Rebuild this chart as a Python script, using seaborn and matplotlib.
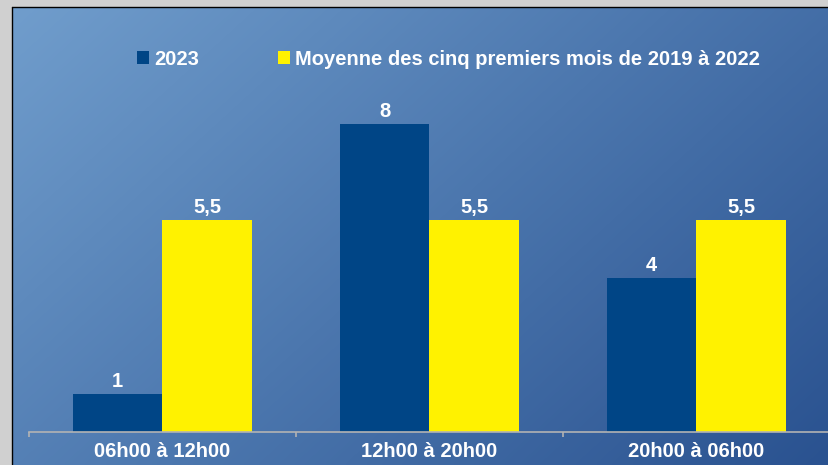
import numpy as np
import pandas as pd
import matplotlib
matplotlib.use("Agg")
import matplotlib.pyplot as plt
from matplotlib.patches import Patch
from matplotlib.lines import Line2D
from matplotlib.colors import LinearSegmentedColormap
import seaborn as sns

# ---- data ----
categories = ["06h00 à 12h00", "12h00 à 20h00", "20h00 à 06h00"]
series_names = ["2023", "Moyenne des cinq premiers mois de 2019 à 2022"]
values_2023 = [1, 8, 4]
values_avg = [5.5, 5.5, 5.5]
colors = ["#004586", "#FFF200"]

df = pd.DataFrame({
    "cat": categories * 2,
    "serie": [series_names[0]] * 3 + [series_names[1]] * 3,
    "val": values_2023 + values_avg,
})

sns.set_theme(style="white")
plt.rcParams["font.family"] = ["Liberation Sans", "DejaVu Sans"]
plt.rcParams["font.weight"] = "bold"

FS = 14.5
W, H = 829, 465
fig = plt.figure(figsize=(W / 100, H / 100), dpi=100)
fig.patch.set_facecolor("#D0D0D0")

# gradient background
bg = fig.add_axes([13 / W, 0, (W - 13) / W, (H - 8) / H])
bg.set_axis_off()
nx, ny = 200, 120
xx, yy = np.meshgrid(np.linspace(0, 1, nx), np.linspace(0, 1, ny))
t = (xx * 0.62 + yy * 0.38)
cmap = LinearSegmentedColormap.from_list("g", ["#709DCC", "#4C77AE", "#2A5290"])
bg.imshow(t, cmap=cmap, aspect="auto", extent=[0, 1, 0, 1], origin="upper",
          interpolation="bilinear")
bg.set_xlim(0, 1)
bg.set_ylim(0, 1)

# black frame lines
fig.add_artist(Line2D([12.5 / W, 12.5 / W], [0, 1 - 7.5 / H], color="black", lw=1,
                      transform=fig.transFigure))
fig.add_artist(Line2D([12.5 / W, 1], [1 - 7.5 / H, 1 - 7.5 / H], color="black", lw=1,
                      transform=fig.transFigure))

# main axes
ax = fig.add_axes([29 / W, 33 / H, 801 / W, 385 / H])
ax.set_facecolor("none")
sns.barplot(data=df, x="cat", y="val", hue="serie", palette=colors,
            width=0.67, gap=0, ax=ax, legend=False, saturation=1, linewidth=0)
ax.set_xlim(-0.5, 2.5)
ax.set_ylim(0, 10)
ax.set_xlabel("")
ax.set_ylabel("")
for s in ["top", "right", "left"]:
    ax.spines[s].set_visible(False)
ax.spines["bottom"].set_color("#B3B3B3")
ax.spines["bottom"].set_linewidth(1.2)
ax.set_yticks([])
ax.set_xticks(range(len(categories)))
ax.set_xticklabels(categories, color="white", fontsize=FS, fontweight="bold")
ax.tick_params(axis="x", which="major", length=0, pad=7, bottom=True)
ax.set_xticks([-0.5, 0.5, 1.5, 2.5], minor=True)
ax.tick_params(axis="x", which="minor", length=3.5, color="#B3B3B3", width=1.2,
               direction="out", bottom=True)

for cont, vals in zip(ax.containers, [values_2023, values_avg]):
    labels = [f"{v:g}".replace(".", ",") for v in vals]
    ax.bar_label(cont, labels=labels, padding=2, color="white", fontsize=FS,
                 fontweight="bold")

handles = [Patch(facecolor=c, edgecolor="none") for c in colors]
fig.legend(handles, series_names, loc="center", bbox_to_anchor=(448.5 / W, 1 - 59 / H),
           ncol=2, frameon=False, prop={"size": FS, "weight": "bold"},
           labelcolor="white", handlelength=0.62, handleheight=0.62,
           handletextpad=0.25, columnspacing=3.9, borderpad=0)

fig.savefig("out.png", dpi=100, facecolor=fig.get_facecolor())
